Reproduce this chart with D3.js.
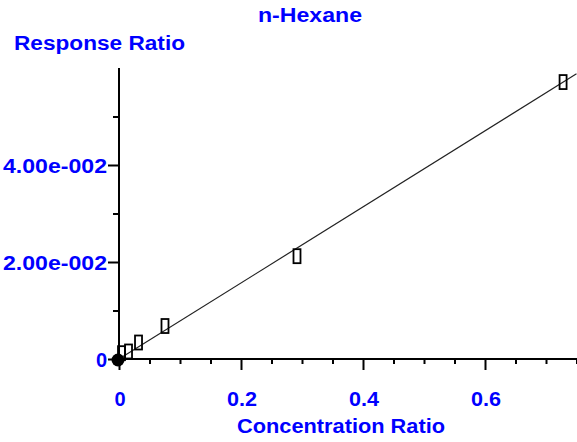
<!DOCTYPE html>
<html>
<head>
<meta charset="utf-8">
<script src="https://cdn.jsdelivr.net/npm/d3@7"></script>
<style>
  html, body { margin: 0; padding: 0; background: #fff; }
  svg { display: block; }
  .lbl { font-family: "Liberation Sans", Arial, sans-serif; font-weight: bold; font-size: 20px; fill: #0000ff; }
</style>
</head>
<body>
<script>
// calibration points (concentration ratio, response ratio)
const concRatio = [0.728, 0.2918, 0.0754, 0.032, 0.0156, 0.0041]
const respRatio = [0.0571, 0.0212, 0.0068, 0.0034, 0.00155, 0.0012]
// origin point drawn as filled dot
const originPt = [[0, 0]]
// fitted line end points
const fitLine = [[0, 0], [0.75, 0.0588]]

const xMajor = [0, 0.2, 0.4, 0.6]
const xMajorLabels = ['0', '0.2', '0.4', '0.6']
const xMinor = [0.05, 0.1, 0.15, 0.25, 0.3, 0.35, 0.45, 0.5, 0.55, 0.65, 0.7, 0.75]
const yMajor = [0, 0.02, 0.04]
const yMajorLabels = ['0', '2.00e-002', '4.00e-002']
const yMinor = [0.01, 0.03, 0.05]

const W = 577, H = 442

const svg = d3.select('body').append('svg')
    .attr('width', W)
    .attr('height', H)

const x = d3.scaleLinear().domain([0, 0.75]).range([119, 576.5])
const y = d3.scaleLinear().domain([0, 0.06]).range([359, 68])

// axes

// y axis line + ticks
const yAxisMajor = d3.axisLeft(y).tickValues(yMajor).tickSize(11).tickFormat('')
const yAxisMinor = d3.axisLeft(y).tickValues(yMinor).tickSize(6).tickFormat('')
const gy = svg.append('g').attr('transform', `translate(${x(0)},0)`)
gy.call(yAxisMajor)
gy.append('g').call(yAxisMinor)
gy.selectAll('.domain').remove()
gy.selectAll('line').attr('stroke', '#000').attr('stroke-width', 2)

svg.append('line')
    .attr('x1', x(0)).attr('x2', x(0))
    .attr('y1', y(0.06)).attr('y2', y(0))
    .attr('stroke', '#000').attr('stroke-width', 2)

// x axis line + ticks
const xAxisMajor = d3.axisBottom(x).tickValues(xMajor).tickSize(11).tickFormat('')
const xAxisMinor = d3.axisBottom(x).tickValues(xMinor).tickSize(5).tickFormat('')
const gx = svg.append('g').attr('transform', `translate(0,${y(0)})`)
gx.call(xAxisMajor)
gx.append('g').call(xAxisMinor)
gx.selectAll('.domain').remove()
gx.selectAll('line').attr('stroke', '#000').attr('stroke-width', 2)

svg.append('line')
    .attr('x1', x(0)).attr('x2', W)
    .attr('y1', y(0)).attr('y2', y(0))
    .attr('stroke', '#000').attr('stroke-width', 2)

// tick labels
svg.selectAll('.ylbl')
    .data(yMajor)
    .enter().append('text')
    .attr('class', 'lbl ylbl')
    .attr('x', 107)
    .attr('y', d => y(d) + 7.5)
    .attr('text-anchor', 'end')
    .attr('textLength', (d, i) => yMajorLabels[i].length > 1 ? 104 : null)
    .attr('lengthAdjust', 'spacingAndGlyphs')
    .text((d, i) => yMajorLabels[i])

svg.selectAll('.xlbl')
    .data(xMajor)
    .enter().append('text')
    .attr('class', 'lbl xlbl')
    .attr('x', d => x(d) + 1)
    .attr('y', 406)
    .attr('text-anchor', 'middle')
    .attr('textLength', (d, i) => xMajorLabels[i].length > 1 ? 30 : null)
    .attr('lengthAdjust', 'spacingAndGlyphs')
    .text((d, i) => xMajorLabels[i])

// titles
svg.append('text')
    .attr('class', 'lbl')
    .attr('x', 310).attr('y', 22)
    .attr('text-anchor', 'middle')
    .attr('textLength', 104).attr('lengthAdjust', 'spacingAndGlyphs')
    .text('n-Hexane')

svg.append('text')
    .attr('class', 'lbl')
    .attr('x', 14).attr('y', 50)
    .attr('textLength', 171).attr('lengthAdjust', 'spacingAndGlyphs')
    .text('Response Ratio')

svg.append('text')
    .attr('class', 'lbl')
    .attr('x', 341).attr('y', 433)
    .attr('text-anchor', 'middle')
    .attr('textLength', 208).attr('lengthAdjust', 'spacingAndGlyphs')
    .text('Concentration Ratio')

// fit line
const line = d3.line()
    .x(d => x(d[0]))
    .y(d => y(d[1]))

svg.append('path')
    .datum(fitLine)
    .attr('d', line)
    .attr('fill', 'none')
    .attr('stroke', '#222')
    .attr('stroke-width', 1.2)

// points
const pts = concRatio.map((c, i) => [c, respRatio[i]])

svg.selectAll('.pt')
    .data(pts)
    .enter().append('rect')
    .attr('class', 'pt')
    .attr('x', d => x(d[0]) - 3.5)
    .attr('y', d => y(d[1]) - 7)
    .attr('width', 7)
    .attr('height', 14)
    .attr('fill', 'none')
    .attr('stroke', '#000')
    .attr('stroke-width', 1.8)

svg.selectAll('.origin')
    .data(originPt)
    .enter().append('circle')
    .attr('cx', d => x(d[0]) - 1)
    .attr('cy', d => y(d[1]) + 1)
    .attr('r', 6.5)
    .attr('fill', '#000')
</script>
</body>
</html>
